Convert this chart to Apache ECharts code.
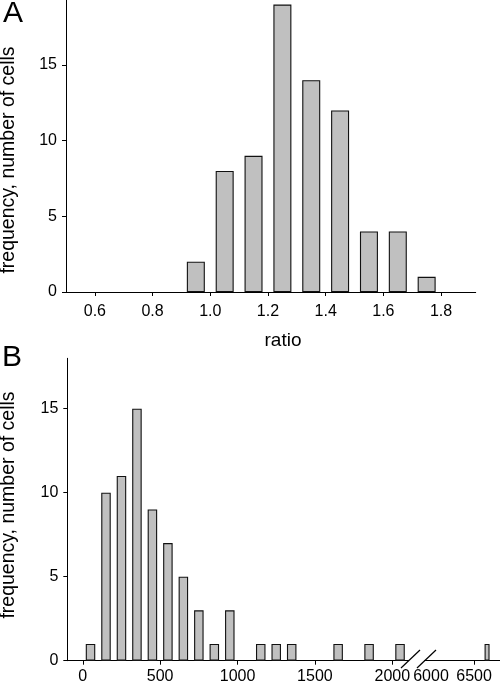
<!DOCTYPE html>
<html><head><meta charset="utf-8">
<script src="https://cdn.jsdelivr.net/npm/echarts@6/dist/echarts.min.js"></script>
<style>html,body{margin:0;padding:0;background:#fff}#c{width:500px;height:686px}</style>
</head><body><div id="c"></div>
<script>
// Panel A: ratio histogram
const ratioBins = [0.95, 1.05, 1.15, 1.25, 1.35, 1.45, 1.55, 1.65, 1.75];
const ratioCounts = [2, 8, 9, 19, 14, 12, 4, 4, 1];
const ratioTicks = [0.6, 0.8, 1.0, 1.2, 1.4, 1.6, 1.8];
const freqTicks = [0, 5, 10, 15];
// Panel B: value histogram (broken axis)
const valueBinsLow = [50,150,250,350,450,550,650,750,850,950,1050,1150,1250,1350,1450,1550,1650,1750,1850,1950,2050];
const valueCountsLow = [1,10,11,15,9,7,5,3,1,3,0,1,1,1,0,0,1,0,1,0,1];
const valueBinsHigh = [6650];
const valueCountsHigh = [1];
const valueTicksLow = [0, 500, 1000, 1500, 2000];
const valueTicksHigh = [6000, 6500];
const valueTickMarksHigh = [6500];

const FONT = 'Liberation Sans, Arial, Helvetica, sans-serif';
const pairs = (xs, ys) => xs.map((x, i) => [x, ys[i]]).filter(p => p[1] > 0);
const barStyle = { color: '#c0c0c0', borderColor: '#111', borderWidth: 1.1 };
const axLine = { show: true, onZero: false, lineStyle: { color: '#000', width: 1 } };

function xAxisCfg(gridIndex, min, max, labelVals, tickVals, fmt, margin) {
  return {
    type: 'value', gridIndex, min, max, position: 'bottom',
    axisLine: axLine,
    axisTick: { show: true, inside: false, length: 4, customValues: tickVals, lineStyle: { color: '#000' } },
    axisLabel: { show: true, customValues: labelVals, formatter: fmt, fontSize: 16, color: '#000', fontFamily: FONT, margin },
    splitLine: { show: false }
  };
}
function yAxisCfg(gridIndex, max, show) {
  return {
    type: 'value', gridIndex, min: 0, max, show,
    axisLine: axLine,
    axisTick: { show: true, inside: false, length: 4, customValues: freqTicks, lineStyle: { color: '#000' } },
    axisLabel: { show: true, customValues: freqTicks, fontSize: 16, color: '#000', fontFamily: FONT, margin: 9 },
    splitLine: { show: false }
  };
}

const chart = echarts.init(document.getElementById('c'), null, { renderer: 'canvas' });
chart.setOption({
  animation: false,
  backgroundColor: '#fff',
  grid: [
    { left: 66, top: 0, width: 409.7, height: 292 },
    { left: 67.3, top: 358.3, width: 341.4, height: 302.4 },
    { left: 424.7, top: 358.3, width: 75.3, height: 302.4 }
  ],
  xAxis: [
    xAxisCfg(0, 0.5, 1.92, ratioTicks, ratioTicks, v => v.toFixed(1), 12),
    xAxisCfg(1, -100, 2106, valueTicksLow, valueTicksLow, v => String(v), 8),
    xAxisCfg(2, 5927, 6800, valueTicksHigh, valueTickMarksHigh, v => String(v), 8)
  ],
  yAxis: [
    yAxisCfg(0, 19.3, true),
    yAxisCfg(1, 18, true),
    yAxisCfg(2, 18, false)
  ],
  series: [
    { type: 'bar', xAxisIndex: 0, yAxisIndex: 0, barWidth: 18, data: pairs(ratioBins, ratioCounts), itemStyle: barStyle },
    { type: 'bar', xAxisIndex: 1, yAxisIndex: 1, barWidth: 9.5, data: pairs(valueBinsLow, valueCountsLow), itemStyle: barStyle },
    { type: 'bar', xAxisIndex: 2, yAxisIndex: 2, barWidth: 5, data: pairs(valueBinsHigh, valueCountsHigh), itemStyle: barStyle }
  ],
  graphic: [
    { type: 'text', left: 3, top: -1, style: { text: 'A', fontSize: 30, fontFamily: FONT, fill: '#000' } },
    { type: 'text', left: 2, top: 343, style: { text: 'B', fontSize: 30, fontFamily: FONT, fill: '#000' } },
    { type: 'text', x: 283, y: 341, style: { text: 'ratio', fontSize: 19, fontFamily: FONT, fill: '#000', align: 'center', verticalAlign: 'middle' } },
    { type: 'text', x: 9, y: 160, rotation: Math.PI / 2, style: { text: 'frequency, number of cells', fontSize: 19.5, fontFamily: FONT, fill: '#000', align: 'center', verticalAlign: 'middle' } },
    { type: 'text', x: 9, y: 505, rotation: Math.PI / 2, style: { text: 'frequency, number of cells', fontSize: 19.5, fontFamily: FONT, fill: '#000', align: 'center', verticalAlign: 'middle' } },
    { type: 'line', shape: { x1: 401, y1: 668, x2: 420, y2: 650 }, style: { stroke: '#000', lineWidth: 1.2 } },
    { type: 'line', shape: { x1: 417, y1: 668, x2: 436, y2: 650 }, style: { stroke: '#000', lineWidth: 1.2 } }
  ]
});
</script></body></html>
